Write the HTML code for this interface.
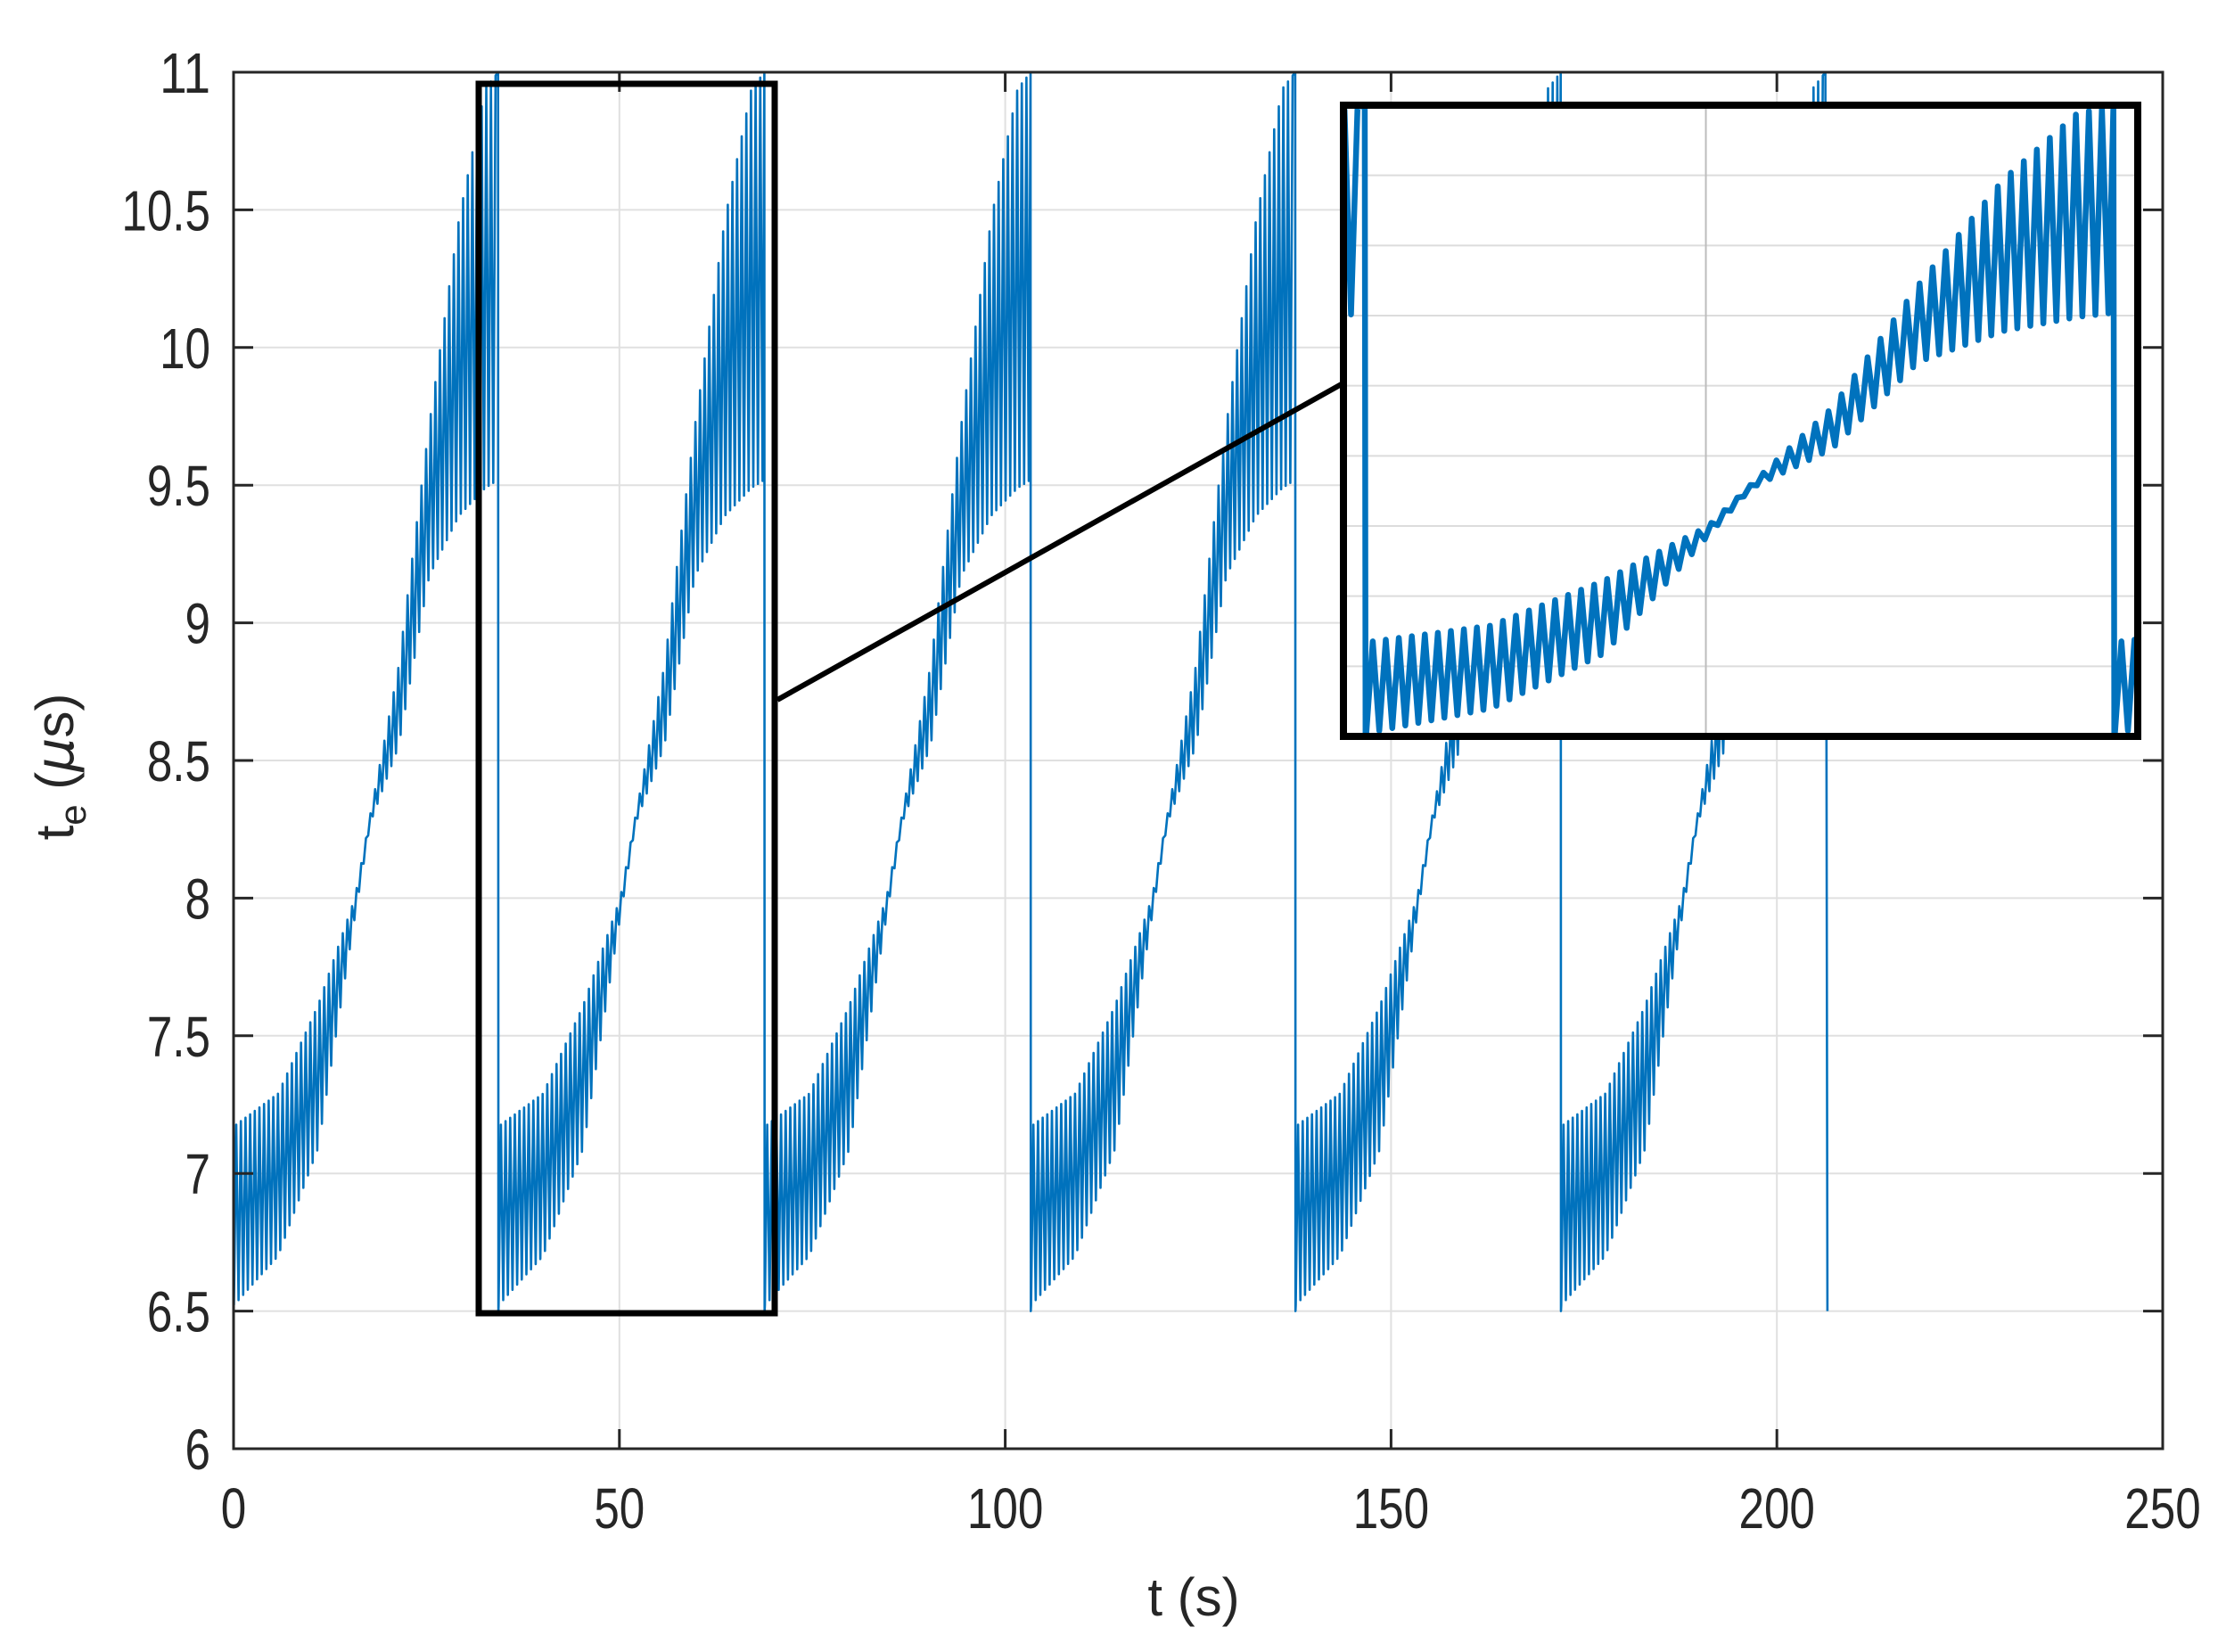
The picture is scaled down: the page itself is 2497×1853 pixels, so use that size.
<!DOCTYPE html>
<html><head><meta charset="utf-8"><style>
html,body{margin:0;padding:0;background:#fff;}
svg{display:block;}
text{font-family:"Liberation Sans",Arial,sans-serif;fill:#262626;}
</style></head><body>
<svg id="chart" width="2497" height="1853" viewBox="0 0 2497 1853" xmlns="http://www.w3.org/2000/svg">
<defs>
<clipPath id="plotClip"><rect x="262" y="81" width="2164" height="1544"/></clipPath>
<clipPath id="insetClip"><rect x="1507" y="118" width="891" height="708"/></clipPath>
</defs>
<rect x="262" y="81" width="2164" height="1544" fill="#fff"/>
<g id="grid"></g>
<g id="series" clip-path="url(#plotClip)"></g>
<g id="axes"></g>
<g id="zoomMarks"></g>
<g id="inset"></g>
<text x="0" y="0" font-size="60" text-anchor="middle" transform="translate(82,860) rotate(-90)">t<tspan font-size="42" dy="14">e</tspan><tspan dy="-14"> (</tspan><tspan font-family="DejaVu Sans" font-style="italic">μ</tspan>s)</text>
<text x="1339" y="1812" font-size="60" text-anchor="middle">t (s)</text>
</svg>
<script>
// ---- data ----
const xTicks = [0, 50, 100, 150, 200, 250];
const yTicks = [6, 6.5, 7, 7.5, 8, 8.5, 9, 9.5, 10, 10.5, 11];
const yTickLabels = ["6", "6.5", "7", "7.5", "8", "8.5", "9", "9.5", "10", "10.5", "11"];
const cycleStarts = [0, 34.3, 68.8, 103.3, 137.6, 172.0];
const lastEnd = 206.3;
const envPhase = [0, 5.8, 11.0, 15.8, 17.8, 21.5, 25.5, 29.4, 32.8, 34.5];
const envHigh  = [7.17, 7.29, 7.61, 8.00, 8.30, 8.84, 9.72, 10.47, 10.94, 11.0];
const envLow   = [6.52, 6.70, 7.09, 7.93, 8.27, 8.55, 9.17, 9.39, 9.49, 9.52];
const oscHalfPeriod = 0.3;
const dropHigh = 11.0, dropLow = 6.5;

const NS = "http://www.w3.org/2000/svg";
const X0 = 262, X1 = 2426, Y0 = 1625, Y1 = 81;
const xMin = 0, xMax = 250, yMin = 6, yMax = 11;
const sx = v => X0 + (v - xMin) / (xMax - xMin) * (X1 - X0);
const sy = v => Y0 - (v - yMin) / (yMax - yMin) * (Y0 - Y1);

function mk(tag, attrs, parent) {
  const e = document.createElementNS(NS, tag);
  for (const k in attrs) e.setAttribute(k, attrs[k]);
  parent.appendChild(e);
  return e;
}
function interp(p, xs, ys) {
  if (p <= xs[0]) return ys[0];
  for (let i = 1; i < xs.length; i++) if (p <= xs[i]) {
    const f = (p - xs[i-1]) / (xs[i] - xs[i-1]);
    return ys[i-1] + f * (ys[i] - ys[i-1]);
  }
  return ys[ys.length-1];
}
const pts = [];
for (let k = 0; k < cycleStarts.length; k++) {
  const s = cycleStarts[k];
  const e = k + 1 < cycleStarts.length ? cycleStarts[k+1] : lastEnd;
  const scale = (e - s) / envPhase[envPhase.length-1];
  let hi = false;
  for (let t = s + 0.05; t < e - 0.05; t += oscHalfPeriod) {
    const p = (t - s) / scale;
    pts.push([t, hi ? interp(p, envPhase, envHigh) : interp(p, envPhase, envLow)]);
    hi = !hi;
  }
  pts.push([e - 0.02, dropHigh]);
  pts.push([e + 0.02, dropLow]);
}
const last = pts[pts.length-1]; last[0] = lastEnd + 0.25;

const grid = document.getElementById('grid');
const axes = document.getElementById('axes');
xTicks.forEach((v, i) => {
  const g = mk('line', {x1: sx(v), x2: sx(v), y1: Y1, y2: Y0, stroke: '#e0e0e0', 'stroke-width': 2}, grid);
  
  
  const t1 = mk('line', {x1: sx(v), x2: sx(v), y1: Y0, y2: Y0 - 22, stroke: '#262626', 'stroke-width': 3}, axes);
  
  
  const t2 = mk('line', {x1: sx(v), x2: sx(v), y1: Y1, y2: Y1 + 22, stroke: '#262626', 'stroke-width': 3}, axes);
  
  
  const lbl = String(v);
  const tx = mk('text', {x: sx(v), y: 1714, 'font-size': 64, 'text-anchor': 'middle', textLength: lbl.length * 0.556 * 64 * 0.8, lengthAdjust: 'spacingAndGlyphs'}, axes);
  tx.textContent = lbl;
  
  
});
yTicks.forEach((v, i) => {
  const g = mk('line', {x1: X0, x2: X1, y1: sy(v), y2: sy(v), stroke: '#e0e0e0', 'stroke-width': 2}, grid);
  
  
  const t1 = mk('line', {x1: X0, x2: X0 + 22, y1: sy(v), y2: sy(v), stroke: '#262626', 'stroke-width': 3}, axes);
  
  
  const t2 = mk('line', {x1: X1, x2: X1 - 22, y1: sy(v), y2: sy(v), stroke: '#262626', 'stroke-width': 3}, axes);
  
  
  const lbl = yTickLabels[i];
  let w = 0; for (const c of lbl) w += (c === '.' ? 0.278 : 0.556);
  const tx = mk('text', {x: 236, y: sy(v) + 23, 'font-size': 64, 'text-anchor': 'end', textLength: w * 64 * 0.8, lengthAdjust: 'spacingAndGlyphs'}, axes);
  tx.textContent = lbl;
  
  
});
const box = mk('rect', {x: X0, y: Y1, width: X1 - X0, height: Y0 - Y1, fill: 'none', stroke: '#262626', 'stroke-width': 3}, axes);



const series = document.getElementById('series');
const path = mk('polyline', {points: pts.map(p => sx(p[0]).toFixed(1) + ',' + sy(p[1]).toFixed(1)).join(' '), fill: 'none', stroke: '#0072BD', 'stroke-width': 2.6, 'stroke-linejoin': 'round'}, series);



const zm = document.getElementById('zoomMarks');
const zr = mk('rect', {x: 537, y: 94, width: 332, height: 1379, fill: 'none', stroke: '#000', 'stroke-width': 7}, zm);


const zl = mk('line', {x1: 872, y1: 785, x2: 1510, y2: 428, stroke: '#000', 'stroke-width': 6}, zm);



const inset = document.getElementById('inset');
const IX0 = 1507, IX1 = 2398, IY0 = 826, IY1 = 118;
const ixMin = 33.3, ixMax = 69.9, iyMin = 6.5, iyMax = 11;
const isx = v => IX0 + (v - ixMin) / (ixMax - ixMin) * (IX1 - IX0);
const isy = v => IY0 - (v - iyMin) / (iyMax - iyMin) * (IY0 - IY1);
const ibg = mk('rect', {x: IX0, y: IY1, width: IX1 - IX0, height: IY0 - IY1, fill: '#fff'}, inset);


const ig = mk('g', {'clip-path': 'url(#insetClip)'}, inset);


yTicks.forEach(v => {
  const l = mk('line', {x1: IX0, x2: IX1, y1: isy(v), y2: isy(v), stroke: '#dcdcdc', 'stroke-width': 2}, ig);
  
  
});
xTicks.forEach(v => {
  const l = mk('line', {x1: isx(v), x2: isx(v), y1: IY1, y2: IY0, stroke: '#bdbdbd', 'stroke-width': 2}, ig);
  
  
});
const ip = mk('polyline', {points: pts.map(p => isx(p[0]).toFixed(1) + ',' + isy(p[1]).toFixed(1)).join(' '), fill: 'none', stroke: '#0072BD', 'stroke-width': 6.5, 'stroke-linejoin': 'round'}, ig);


const ib = mk('rect', {x: IX0, y: IY1, width: IX1 - IX0, height: IY0 - IY1, fill: 'none', stroke: '#000', 'stroke-width': 8}, inset);


</script>
</body></html>
